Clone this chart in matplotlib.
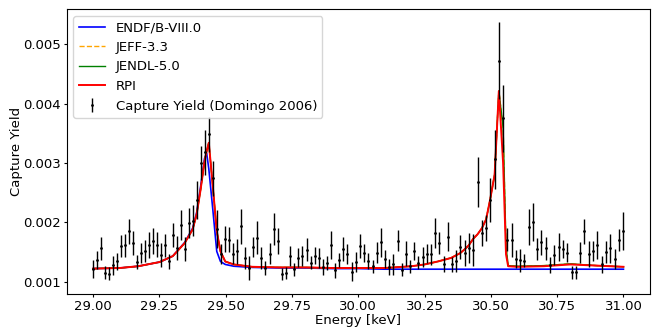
import matplotlib
matplotlib.use("Agg")
import matplotlib.pyplot as plt

# measured capture yield (Domingo 2006)
energy = [
    29.000, 29.015, 29.030, 29.045, 29.060, 29.075, 29.090, 29.105, 29.120, 29.135,
    29.150, 29.165, 29.180, 29.196, 29.211, 29.226, 29.241, 29.256, 29.271, 29.286,
    29.301, 29.316, 29.331, 29.346, 29.361, 29.376, 29.391, 29.406, 29.421, 29.436,
    29.451, 29.466,
    29.481, 29.498, 29.513, 29.528, 29.543, 29.558, 29.573, 29.588, 29.604, 29.619,
    29.634, 29.649, 29.665, 29.681, 29.697, 29.712, 29.727, 29.742, 29.759, 29.774,
    29.789, 29.805, 29.820, 29.835, 29.851, 29.866, 29.881, 29.898, 29.913, 29.928,
    29.944, 29.959,
    29.976, 29.992, 30.007, 30.023, 30.038, 30.055, 30.070, 30.085, 30.101, 30.117,
    30.132, 30.149, 30.164, 30.180, 30.195, 30.211, 30.226, 30.243, 30.259, 30.274,
    30.290, 30.305, 30.322, 30.337, 30.353, 30.369, 30.384, 30.401, 30.416, 30.433,
    30.450,
    30.466, 30.482, 30.497, 30.514, 30.530, 30.546, 30.562, 30.578, 30.594, 30.610,
    30.626, 30.643, 30.658, 30.674, 30.690, 30.707, 30.723, 30.739, 30.756, 30.772,
    30.788, 30.805, 30.821, 30.837, 30.853, 30.870, 30.886, 30.902, 30.919, 30.935,
    30.951, 30.967, 30.984, 31.000,
]
yield_exp = [
    0.00122, 0.00136, 0.00156, 0.00115, 0.00113, 0.00128, 0.00134, 0.00160, 0.00161, 0.00185,
    0.00165, 0.00133, 0.00148, 0.00152, 0.00162, 0.00168, 0.00162, 0.00145, 0.00161, 0.00134,
    0.00178, 0.00157, 0.00195, 0.00155, 0.00199, 0.00203, 0.00238, 0.00300, 0.00318, 0.00348,
    0.00274, 0.00188,
    0.00146, 0.00172, 0.00171, 0.00147, 0.00151, 0.00193, 0.00140, 0.00123, 0.00158, 0.00174,
    0.00140, 0.00123, 0.00147, 0.00189, 0.00168, 0.00113, 0.00115, 0.00143, 0.00121, 0.00140,
    0.00143, 0.00154, 0.00132, 0.00144, 0.00140, 0.00125, 0.00132, 0.00162, 0.00119, 0.00136,
    0.00155, 0.00146,
    0.00117, 0.00133, 0.00160, 0.00148, 0.00135, 0.00126, 0.00149, 0.00166, 0.00138, 0.00125,
    0.00129, 0.00169, 0.00120, 0.00147, 0.00126, 0.00151, 0.00132, 0.00142, 0.00147, 0.00146,
    0.00182, 0.00165, 0.00130, 0.00176, 0.00129, 0.00135, 0.00158, 0.00148, 0.00157, 0.00153,
    0.00268,
    0.00182, 0.00191, 0.00238, 0.00306, 0.00472, 0.00375, 0.00171, 0.00170, 0.00138, 0.00136,
    0.00135, 0.00192, 0.00200, 0.00155, 0.00166, 0.00156, 0.00128, 0.00145, 0.00158, 0.00155,
    0.00149, 0.00116, 0.00116, 0.00149, 0.00185, 0.00146, 0.00151, 0.00162, 0.00129, 0.00150,
    0.00156, 0.00138, 0.00170, 0.00185,
]
yield_err = [
    0.00015, 0.00015, 0.00019, 0.00011, 0.00011, 0.00016, 0.00014, 0.00019, 0.00019, 0.00021,
    0.00020, 0.00012, 0.00017, 0.00019, 0.00022, 0.00022, 0.00021, 0.00020, 0.00020, 0.00013,
    0.00020, 0.00020, 0.00025, 0.00021, 0.00025, 0.00026, 0.00032, 0.00028, 0.00038, 0.00030,
    0.00030, 0.00032,
    0.00017, 0.00022, 0.00021, 0.00018, 0.00021, 0.00030, 0.00019, 0.00020, 0.00017, 0.00028,
    0.00019, 0.00011, 0.00018, 0.00027, 0.00022, 0.00010, 0.00010, 0.00017, 0.00011, 0.00016,
    0.00017, 0.00020, 0.00011, 0.00015, 0.00017, 0.00013, 0.00012, 0.00024, 0.00012, 0.00012,
    0.00021, 0.00017,
    0.00016, 0.00017, 0.00020, 0.00015, 0.00013, 0.00011, 0.00018, 0.00024, 0.00015, 0.00013,
    0.00017, 0.00018, 0.00011, 0.00021, 0.00011, 0.00015, 0.00011, 0.00017, 0.00016, 0.00018,
    0.00025, 0.00018, 0.00013, 0.00024, 0.00013, 0.00018, 0.00020, 0.00022, 0.00025, 0.00027,
    0.00042,
    0.00022, 0.00022, 0.00037, 0.00050, 0.00065, 0.00056, 0.00020, 0.00029, 0.00015, 0.00019,
    0.00011, 0.00030, 0.00032, 0.00018, 0.00021, 0.00020, 0.00013, 0.00017, 0.00024, 0.00015,
    0.00016, 0.00011, 0.00011, 0.00017, 0.00021, 0.00022, 0.00017, 0.00024, 0.00015, 0.00018,
    0.00024, 0.00017, 0.00019, 0.00032,
]

# evaluated yield curves
curve_e = [29.00, 29.10, 29.17, 29.25, 29.30, 29.345, 29.375, 29.39, 29.405, 29.42,
           29.428, 29.436, 29.451, 29.466, 29.48, 29.498, 29.53, 29.60, 29.70, 29.80,
           29.90, 30.00, 30.10, 30.20, 30.25, 30.30, 30.35, 30.384, 30.40, 30.416,
           30.433, 30.45, 30.466, 30.482, 30.497, 30.514, 30.53, 30.546, 30.557, 30.565,
           30.60, 30.70, 30.80, 30.90, 31.00]
endf = [0.00122, 0.00123, 0.00126, 0.00133, 0.00143, 0.00166, 0.00190, 0.00216, 0.00260, 0.00308,
        0.00316, 0.00290, 0.00222, 0.00151, 0.00134, 0.00129, 0.00126, 0.00124, 0.00123, 0.00123,
        0.00122, 0.00122, 0.00121, 0.00121, 0.00121, 0.00121, 0.00121, 0.00121, 0.00121, 0.00121,
        0.00121, 0.00121, 0.00121, 0.00121, 0.00121, 0.00121, 0.00121, 0.00121, 0.00121, 0.00121,
        0.00121, 0.00121, 0.00121, 0.00121, 0.00121]
jendl = [0.00122, 0.00123, 0.00126, 0.00133, 0.00143, 0.00165, 0.00188, 0.00213, 0.00255, 0.00303,
         0.00320, 0.00334, 0.00261, 0.00185, 0.00151, 0.00134, 0.00129, 0.00125, 0.00124, 0.00124,
         0.00123, 0.00123, 0.00123, 0.00126, 0.00129, 0.00134, 0.00140, 0.00148, 0.00154, 0.00161,
         0.00172, 0.00180, 0.00190, 0.00205, 0.00238, 0.00280, 0.00421, 0.00360, 0.00160, 0.00127,
         0.00126, 0.00127, 0.00130, 0.00127, 0.00125]
jeff = jendl
rpi = [0.00122, 0.00123, 0.00126, 0.00133, 0.00143, 0.00165, 0.00188, 0.00213, 0.00255, 0.00303,
       0.00320, 0.00334, 0.00261, 0.00185, 0.00151, 0.00134, 0.00129, 0.00125, 0.00124, 0.00124,
       0.00123, 0.00123, 0.00123, 0.00126, 0.00129, 0.00134, 0.00140, 0.00148, 0.00154, 0.00161,
       0.00172, 0.00180, 0.00190, 0.00205, 0.00238, 0.00280, 0.00421, 0.00300, 0.00146, 0.00126,
       0.00125, 0.00126, 0.00129, 0.00127, 0.00125]

plt.rcParams['font.size'] = 9.5
plt.rcParams['xtick.major.size'] = 2
plt.rcParams['ytick.major.size'] = 2
plt.rcParams['xtick.major.pad'] = 2
plt.rcParams['ytick.major.pad'] = 2

fig, ax = plt.subplots(figsize=(6.52, 3.27), dpi=100)
fig.subplots_adjust(left=0.1023, right=0.9969, top=0.9716, bottom=0.1009)

ax.plot(curve_e, endf, color='blue', lw=1.2, label='ENDF/B-VIII.0')
ax.plot(curve_e, jeff, color='orange', lw=1.0, ls='--', label='JEFF-3.3')
ax.plot(curve_e, jendl, color='green', lw=1.0, label='JENDL-5.0')
ax.plot(curve_e, rpi, color='red', lw=1.4, label='RPI')
ax.errorbar(energy, yield_exp, yerr=yield_err, fmt='.', color='black',
            ms=2, elinewidth=1, label='Capture Yield (Domingo 2006)')

ax.set_xlabel('Energy [keV]', labelpad=1)
ax.set_ylabel('Capture Yield', labelpad=0)
ax.legend(loc='upper left')

fig.savefig('out.png', dpi=100)
